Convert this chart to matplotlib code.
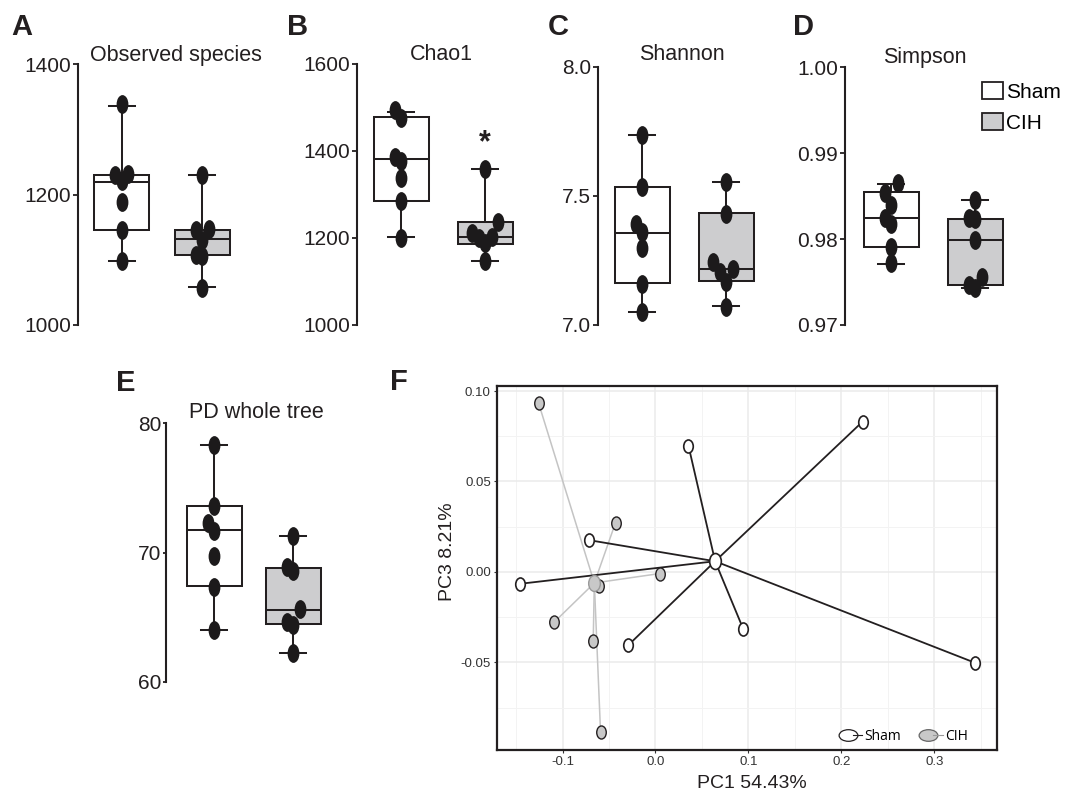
import numpy as np
import matplotlib
matplotlib.use("Agg")
import matplotlib.pyplot as plt
from matplotlib.path import Path
from matplotlib.lines import Line2D
from matplotlib.patches import Patch
from matplotlib.legend_handler import HandlerTuple

# ---- data ----
groups = ["Sham", "CIH"]

# box stats: whislo, q1, median, q3, whishi
obs_sham = [1338, 1232, 1230, 1220, 1189, 1146, 1098]
obs_cih = [1230, 1147, 1145, 1131, 1108, 1106, 1057]
obs_box_sham = [1098, 1146, 1219, 1230, 1335]
obs_box_cih = [1058, 1108, 1132, 1146, 1230]
obs_ticks = [1000, 1200, 1400]

chao_sham = [1494, 1475, 1387, 1378, 1339, 1286, 1200]
chao_cih = [1358, 1236, 1212, 1203, 1200, 1189, 1146]
chao_box_sham = [1203, 1285, 1382, 1479, 1490]
chao_box_cih = [1146, 1186, 1203, 1236, 1358]
chao_ticks = [1000, 1200, 1400, 1600]
chao_star = 1418

shannon_sham = [7.735, 7.535, 7.39, 7.36, 7.30, 7.16, 7.05]
shannon_cih = [7.555, 7.43, 7.245, 7.217, 7.206, 7.168, 7.071]
shannon_box_sham = [7.052, 7.161, 7.357, 7.534, 7.735]
shannon_box_cih = [7.074, 7.170, 7.217, 7.432, 7.555]
shannon_ticks = [7.0, 7.5, 8.0]
shannon_ticklabels = ["7.0", "7.5", "8.0"]

simpson_sham = [0.9865, 0.9854, 0.9840, 0.9824, 0.9818, 0.9791, 0.9772]
simpson_cih = [0.98455, 0.9824, 0.9823, 0.9799, 0.9756, 0.9746, 0.9743]
simpson_box_sham = [0.9771, 0.97908, 0.98246, 0.98552, 0.98642]
simpson_box_cih = [0.97434, 0.97466, 0.97994, 0.98238, 0.98455]
simpson_ticks = [0.97, 0.98, 0.99, 1.00]
simpson_ticklabels = ["0.97", "0.98", "0.99", "1.00"]

pd_sham = [78.3, 73.6, 72.3, 71.7, 69.7, 67.3, 64.0]
pd_cih = [71.3, 68.9, 68.6, 65.6, 64.6, 64.4, 62.2]
pd_box_sham = [64.02, 67.42, 71.72, 73.6, 78.3]
pd_box_cih = [62.2, 64.46, 65.56, 68.83, 71.3]
pd_ticks = [60, 70, 80]

# PCoA coordinates
sham_pc1 = [-0.1459, -0.0720, -0.0294, 0.0355, 0.0946, 0.2228, 0.3434]
sham_pc3 = [-0.0066, 0.0176, -0.0406, 0.0697, -0.0318, 0.0831, -0.0502]
cih_pc1 = [-0.1258, -0.1090, -0.0670, -0.0613, -0.0591, -0.0430, 0.0047]
cih_pc3 = [0.0934, -0.0278, -0.0382, -0.0079, -0.0888, 0.0272, -0.0009]
pc1_ticks = [-0.1, 0.0, 0.1, 0.2, 0.3]
pc1_ticklabels = ["-0.1", "0.0", "0.1", "0.2", "0.3"]
pc3_ticks = [-0.05, 0.0, 0.05, 0.10]
pc3_ticklabels = ["-0.05", "0.00", "0.05", "0.10"]

# ---- style ----
INK = "#231f20"
DOT = "#1c1a1b"
FILLS = ["white", "#cdcdcf"]
SANS = ["Liberation Sans", "DejaVu Sans"]
plt.rcParams["font.family"] = SANS

W, H = 1071, 795


def fx(x):
    return x / W


def fy(y):
    return 1 - y / H


circ = Path.unit_circle()
OVAL_TALL = Path(circ.vertices * [0.6, 1.0], circ.codes)
OVAL_F = Path(circ.vertices * [0.73, 1.0], circ.codes)
OVAL_WIDE = Path(circ.vertices * [1.0, 0.62], circ.codes)


def dodge(vals, tol, step):
    # spread points sideways when they sit close together
    vals = np.asarray(vals, dtype=float)
    order = np.argsort(vals)
    offs = np.zeros(len(vals))
    pattern = [0, -1, 1, -2, 2]
    run, prev = 0, None
    for i in order:
        if prev is not None and vals[i] - prev < tol:
            run += 1
        else:
            run = 0
        offs[i] = pattern[run % 5] * step
        prev = vals[i]
    return offs


fig = plt.figure(figsize=(W / 100, H / 100), dpi=100)


def box_panel(layout, sham_pts, cih_pts, sham_box, cih_box, ticks, ticklabels):
    left, top, bottom, c1, c2 = layout
    sp = c2 - c1
    right = c2 + 55
    ax = fig.add_axes([fx(left), fy(bottom), (right - left) / W, (bottom - top) / H])
    ax.set_xlim(1 - (c1 - left) / sp, 2 + (right - c2) / sp)
    ax.set_ylim(ticks[0], ticks[-1])
    stats = []
    for b in (sham_box, cih_box):
        lo, q1, med, q3, hi = b
        stats.append(dict(whislo=lo, q1=q1, med=med, q3=q3, whishi=hi, fliers=[]))
    lw = 1.45
    bp = ax.bxp(stats, positions=[1, 2], widths=55 / sp, capwidths=26 / sp,
                patch_artist=True, showfliers=False, manage_ticks=False,
                boxprops=dict(edgecolor=INK, linewidth=lw),
                medianprops=dict(color=INK, linewidth=lw),
                whiskerprops=dict(color=INK, linewidth=lw),
                capprops=dict(color=INK, linewidth=lw))
    for patch, fc in zip(bp["boxes"], FILLS):
        patch.set_facecolor(fc)
    px_per_unit = (bottom - top) / (ticks[-1] - ticks[0])
    for pos, pts in zip([1, 2], [sham_pts, cih_pts]):
        off = dodge(pts, tol=13 / px_per_unit, step=6.5 / sp)
        ax.plot(pos + off, pts, ls="none", marker=OVAL_TALL, ms=12.5,
                color=DOT, zorder=4, clip_on=False)
    for s in ["top", "right", "bottom"]:
        ax.spines[s].set_visible(False)
    ax.spines["left"].set_linewidth(1.5)
    ax.spines["left"].set_color(INK)
    ax.set_xticks([])
    ax.set_yticks(ticks)
    ax.set_yticklabels(ticklabels, fontsize=15, color=INK)
    ax.tick_params(axis="y", length=3.5, width=1.3, color=INK, pad=1.5)
    ax.patch.set_alpha(0)
    return ax


axA = box_panel((78.3, 64, 325, 121.7, 202.3), obs_sham, obs_cih,
                obs_box_sham, obs_box_cih, obs_ticks, [str(t) for t in obs_ticks])
axB = box_panel((356.7, 64, 325, 401, 485), chao_sham, chao_cih,
                chao_box_sham, chao_box_cih, chao_ticks, [str(t) for t in chao_ticks])
axB.text(2, chao_star, "*", ha="center", va="center", fontsize=22,
         fontweight="bold", color=INK)
axC = box_panel((598.3, 66.7, 325, 642.3, 726), shannon_sham, shannon_cih,
                shannon_box_sham, shannon_box_cih, shannon_ticks, shannon_ticklabels)
axD = box_panel((845, 67.3, 325, 891, 975.3), simpson_sham, simpson_cih,
                simpson_box_sham, simpson_box_cih, simpson_ticks, simpson_ticklabels)
axE = box_panel((165.7, 423.3, 681.7, 214.3, 293.3), pd_sham, pd_cih,
                pd_box_sham, pd_box_cih, pd_ticks, [str(t) for t in pd_ticks])
axE.tick_params(axis="y", length=2, pad=1)

# titles and panel letters
titles = [("Observed species", 176, 55), ("Chao1", 441.7, 55),
          ("Shannon", 682.3, 55), ("Simpson", 925, 58), ("PD whole tree", 256, 412)]
for t, x, y in titles:
    fig.text(fx(x), fy(y), t, ha="center", va="center", fontsize=15.5, color=INK)

letters = [("A", 22, 27), ("B", 298, 27), ("C", 558, 27), ("D", 803.5, 27),
           ("E", 126, 383), ("F", 399, 382)]
for t, x, y in letters:
    fig.text(fx(x), fy(y), t, ha="center", va="center", fontsize=21,
             fontweight="bold", color=INK)

# box legend
fig.legend(handles=[Patch(facecolor=FILLS[0], edgecolor=INK, linewidth=1.3),
                    Patch(facecolor=FILLS[1], edgecolor=INK, linewidth=1.3)],
           labels=groups, loc="upper left", bbox_to_anchor=(fx(972), fy(72)),
           frameon=False, borderpad=0, handlelength=1.0, handleheight=0.85,
           handletextpad=0.12, labelspacing=0.55,
           prop=dict(size=15))

# ---- panel F: PCoA ----
axF = fig.add_axes([fx(497), fy(750), 500 / W, 364 / H])
axF.set_xlim(-0.1705, 0.3674)
axF.set_ylim(-0.0985, 0.1028)
axF.set_xticks(pc1_ticks)
axF.set_xticklabels(pc1_ticklabels, fontsize=9.5, color="#333333")
axF.set_yticks(pc3_ticks)
axF.set_yticklabels(pc3_ticklabels, fontsize=9.5, color="#333333")
axF.set_xticks(np.arange(-0.15, 0.36, 0.1), minor=True)
axF.set_yticks([-0.075, -0.025, 0.025, 0.075], minor=True)
axF.grid(which="major", color="#ebebeb", linewidth=1.1)
axF.grid(which="minor", color="#f3f3f3", linewidth=0.7)
axF.set_axisbelow(True)
axF.tick_params(which="major", length=2.5, width=0.8, color="#333333", pad=2)
axF.tick_params(which="minor", length=0)
for s in axF.spines.values():
    s.set_linewidth(1.6)
    s.set_color(INK)

sx, sy = np.mean(sham_pc1), np.mean(sham_pc3)
cx, cy = np.mean(cih_pc1), np.mean(cih_pc3)
for x, y in zip(cih_pc1, cih_pc3):
    axF.plot([cx, x], [cy, y], color="#c4c4c4", lw=1.1, zorder=2)
for x, y in zip(sham_pc1, sham_pc3):
    axF.plot([sx, x], [sy, y], color=INK, lw=1.3, zorder=3)
axF.plot(cih_pc1, cih_pc3, ls="none", marker=OVAL_F, ms=9.4, mfc="#c8c8c8",
         mec=INK, mew=1.0, zorder=4)
axF.plot([cx], [cy], ls="none", marker=OVAL_F, ms=11.5, mfc="#c8c8c8",
         mec="#9a9a9a", mew=1.0, zorder=4)
axF.plot(sham_pc1, sham_pc3, ls="none", marker=OVAL_F, ms=9.4, mfc="white",
         mec=INK, mew=1.2, zorder=5)
axF.plot([sx], [sy], ls="none", marker=OVAL_F, ms=11.5, mfc="white",
         mec=INK, mew=1.2, zorder=5)

h_sham = (Line2D([], [], ls="none", marker=OVAL_WIDE, ms=13.5, mfc="white", mec=INK, mew=0.9),
          Line2D([], [], color=INK, lw=0.8))
h_cih = (Line2D([], [], ls="none", marker=OVAL_WIDE, ms=13.5, mfc="#c8c8c8", mec="#666666", mew=0.9),
         Line2D([], [], color="#9a9a9a", lw=0.8))
axF.legend([h_sham, h_cih], groups, handler_map={tuple: HandlerTuple(ndivide=None)},
           ncol=2, loc="center left", bbox_to_anchor=(fx(836), fy(736)),
           bbox_transform=fig.transFigure, frameon=False, borderpad=0,
           handlelength=1.4, handletextpad=0.15, columnspacing=1.6,
           prop=dict(family=["Open Sans", "DejaVu Sans"], size=10))

fig.text(fx(752), fy(783), "PC1 54.43%", ha="center", va="center", fontsize=14, color=INK)
fig.text(fx(447), fy(552), "PC3 8.21%", ha="center", va="center", rotation=90,
         fontsize=14, color=INK)

fig.savefig("out.png", dpi=100)
